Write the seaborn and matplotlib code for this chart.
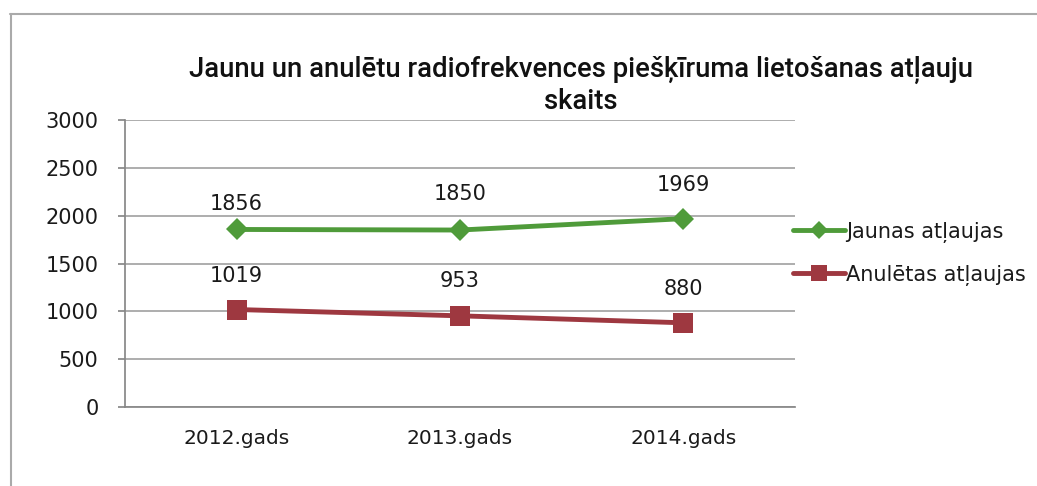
import matplotlib
matplotlib.use("Agg")
import matplotlib.pyplot as plt
from matplotlib.lines import Line2D
import seaborn as sns
import pandas as pd

categories = ["2012.gads", "2013.gads", "2014.gads"]
jaunas = [1856, 1850, 1969]
anuletas = [1019, 953, 880]
series_names = ["Jaunas atļaujas", "Anulētas atļaujas"]
title = "Jaunu un anulētu radiofrekvences piešķīruma lietošanas atļauju\nskaits"

sns.set_theme(style="white")
plt.rcParams['font.family'] = ['DejaVu Sans']

df = pd.DataFrame({
    "cat": categories * 2,
    "val": jaunas + anuletas,
    "series": [series_names[0]] * 3 + [series_names[1]] * 3,
})
df["x"] = [0, 1, 2] * 2

green = "#4f9b3a"
red = "#9e3840"

fig = plt.figure(figsize=(10.37, 4.86), dpi=100)
ax = fig.add_axes([0.1205, 0.1626, 0.6461, 0.5904])

sns.lineplot(data=df, x="x", y="val", hue="series", style="series",
             palette={series_names[0]: green, series_names[1]: red},
             markers={series_names[0]: "D", series_names[1]: "s"},
             dashes=False, linewidth=3.5, ax=ax, legend=False)
for line, ms in zip(ax.lines[:2], [11, 15]):
    line.set_markersize(ms)
    line.set_markeredgewidth(0)

ax.set_xlim(-0.5, 2.5)
ax.set_ylim(0, 3000)
ax.set_yticks(range(0, 3001, 500))
ax.set_xticks([0, 1, 2])
ax.set_xticklabels(categories)
ax.set_xticks([-0.5, 0.5, 1.5, 2.5], minor=True)
ax.tick_params(axis="x", which="major", length=0, pad=16)
ax.tick_params(axis="x", which="minor", length=5, color="#888888", direction="in")
ax.tick_params(axis="y", length=5, color="#888888", pad=14, left=True, direction="out")
for lab in ax.get_xticklabels():
    lab.set_fontsize(14.5)
    lab.set_color("#1a1a1a")
for lab in ax.get_yticklabels():
    lab.set_fontsize(15)
    lab.set_color("#1a1a1a")
ax.set_xlabel("")
ax.set_ylabel("")
ax.grid(axis="y", color="#a0a0a0", linewidth=1.2)
ax.set_axisbelow(True)
for s in ["top", "right"]:
    ax.spines[s].set_visible(False)
ax.spines["left"].set_color("#888888")
ax.spines["bottom"].set_color("#888888")

offsets = [[18, 26, 24], [24, 25, 24]]
for vals, offs in zip([jaunas, anuletas], offsets):
    for i, v in enumerate(vals):
        ax.annotate(str(v), (i, v), xytext=(0, offs[i]), textcoords="offset points",
                    ha="center", va="center", fontsize=15, color="#1a1a1a")

handles = [
    Line2D([], [], color=green, lw=3.5, marker="D", markersize=9, markeredgewidth=0),
    Line2D([], [], color=red, lw=3.5, marker="s", markersize=12, markeredgewidth=0),
]
leg = ax.legend(handles, series_names, loc="upper left", bbox_to_anchor=(0.985, 0.675),
                frameon=False, fontsize=15, handlelength=2.5, handletextpad=0.05,
                labelspacing=1.05, borderaxespad=0)
for t in leg.get_texts():
    t.set_color("#1a1a1a")

fig.text(0.56, 0.825, title, ha="center", va="center", fontsize=19.8,
         family=['Roboto', 'DejaVu Sans'], fontweight="medium",
         linespacing=1.2, color="#111111")

# outer chart border
fig.add_artist(Line2D([0.01, 1.0], [0.972, 0.972], color="#aaaaaa", lw=1.5, transform=fig.transFigure))
fig.add_artist(Line2D([0.0105, 0.0105], [0.0, 0.972], color="#aaaaaa", lw=1.5, transform=fig.transFigure))

fig.savefig("out.png", dpi=100)
